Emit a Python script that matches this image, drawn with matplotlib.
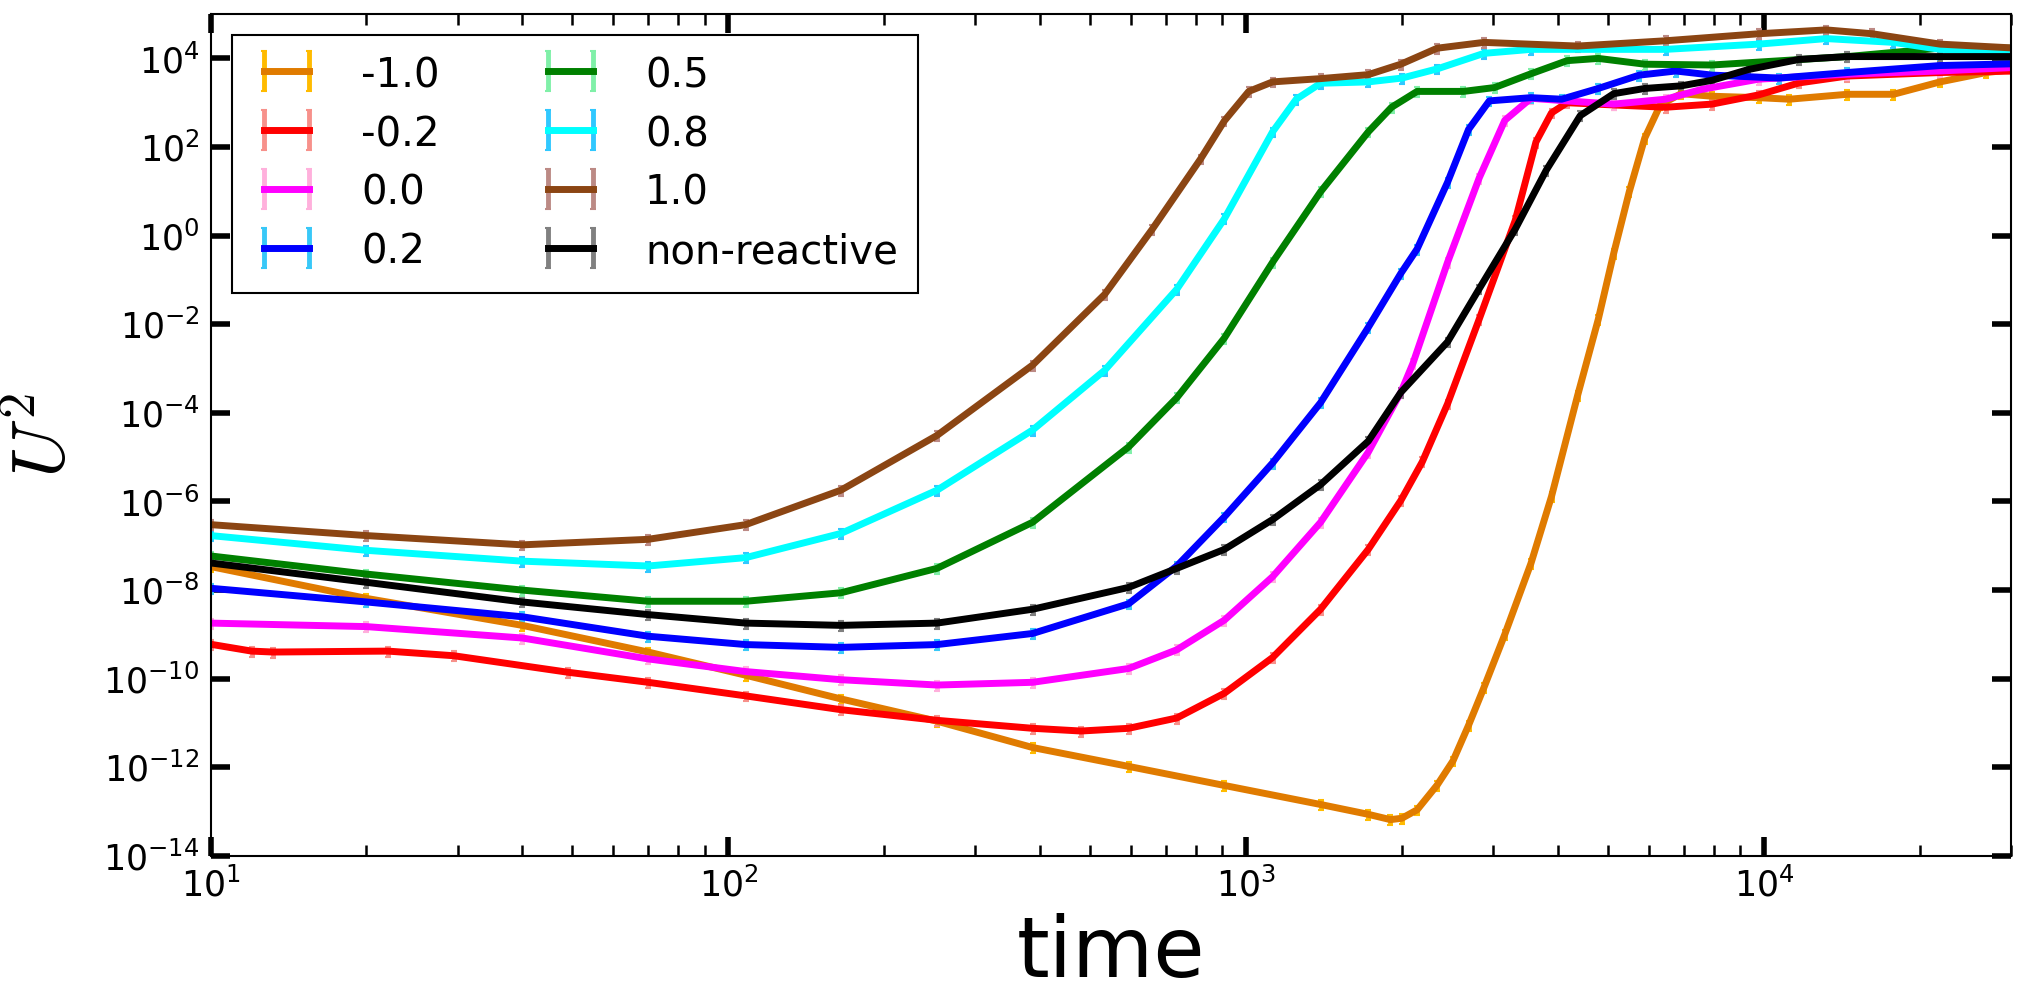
import numpy as np
import matplotlib

matplotlib.use("Agg")
from matplotlib import pyplot as plt
from matplotlib import ticker

# values (time, U^2), one pair per run
t_m10 = [10, 20, 40, 70, 108, 165, 253, 387, 593, 908, 1393, 1722, 1900, 2000, 2140, 2340, 2510, 2690, 2880,
         3160, 3550, 3890, 4370, 4790, 5130, 5500, 5890, 6310, 6920, 7940, 9770, 11200, 14500, 17800, 21900,
         26900, 30900]
u_m10 = [3.4e-8, 6.5e-9, 1.6e-9, 4.0e-10, 1.2e-10, 3.5e-11, 1.1e-11, 2.8e-12, 1.05e-12, 3.9e-13, 1.45e-13,
         8.7e-14, 6.6e-14, 7.1e-14, 1.1e-13, 4.0e-13, 1.4e-12, 8.9e-12, 6.3e-11, 1.0e-9, 4.0e-8, 1.3e-6,
         2.5e-4, 1.3e-2, 0.4, 10, 160, 890, 1600, 1400, 1300, 1200, 1550, 1550, 2950, 4800, 5750]

t_m02 = [10, 12, 13.2, 22, 29.5, 49, 70, 108, 165, 253, 387, 480, 593, 735, 908, 1125, 1393, 1722, 1990,
         2190, 2450, 2820, 3310, 3630, 3890, 4170, 5130, 6460, 7940, 9770, 11700, 14500, 21900, 30900]
u_m02 = [6.0e-10, 4.2e-10, 4.0e-10, 4.2e-10, 3.3e-10, 1.4e-10, 8.3e-11, 4.1e-11, 2.0e-11, 1.15e-11, 7.6e-12,
         6.6e-12, 7.6e-12, 1.3e-11, 4.7e-11, 3.0e-10, 3.7e-9, 8.3e-8, 1.05e-6, 7.9e-6, 1.6e-4, 1.3e-2, 2.2,
         130, 590, 1000, 890, 790, 930, 1500, 2800, 4000, 4800, 5200]

t_00 = [10, 20, 40, 70, 108, 165, 253, 387, 593, 735, 908, 1125, 1393, 1722, 1990, 2100, 2450, 2820, 3160,
        3550, 4070, 5130, 6460, 7590, 9770, 14500, 21900, 30900]
u_00 = [1.8e-9, 1.5e-9, 8.3e-10, 2.8e-10, 1.45e-10, 9.5e-11, 7.2e-11, 8.3e-11, 1.7e-10, 4.5e-10, 2.1e-9,
        2.0e-8, 3.4e-7, 1.3e-5, 2.9e-4, 1.3e-3, 0.25, 20, 400, 1260, 1120, 930, 1200, 2000, 3400, 4400, 5200,
        6300]

t_02 = [10, 20, 40, 70, 108, 165, 253, 387, 593, 735, 908, 1125, 1393, 1722, 1990, 2140, 2450, 2690, 2950,
        3550, 4070, 4790, 5750, 6760, 7940, 10700, 14500, 21900, 30900]
u_02 = [1.1e-8, 5.4e-9, 2.5e-9, 9.1e-10, 5.9e-10, 5.1e-10, 5.9e-10, 1.05e-9, 4.9e-9, 3.5e-8, 4.5e-7, 7.4e-6,
        1.7e-4, 8.5e-3, 0.14, 0.5, 16, 250, 1100, 1300, 1200, 2100, 4200, 5200, 4200, 3600, 4800, 6900, 7600]

t_05 = [10, 20, 40, 70, 108, 165, 253, 387, 593, 735, 908, 1125, 1393, 1722, 1910, 2140, 2630, 3020, 3550,
        4170, 4790, 5890, 7940, 14500, 21900, 30900]
u_05 = [5.9e-8, 2.3e-8, 1.0e-8, 5.6e-9, 5.6e-9, 8.7e-9, 3.1e-8, 3.4e-7, 1.7e-5, 2.2e-4, 4.9e-3, 0.25, 9.8,
        220, 790, 1800, 1800, 2200, 4500, 8900, 10000, 7400, 7100, 11000, 17000, 17000]

t_08 = [10, 20, 40, 70, 108, 165, 253, 387, 533, 735, 908, 1125, 1250, 1393, 1722, 2000, 2340, 2880, 3550,
        6460, 9770, 13200, 17800, 21900, 30900]
u_08 = [1.7e-7, 7.9e-8, 4.5e-8, 3.5e-8, 5.4e-8, 1.9e-7, 1.8e-6, 4.1e-5, 9.1e-4, 6.2e-2, 2.4, 220, 1200,
        2750, 2950, 3600, 5800, 13000, 16000, 16000, 21000, 28000, 23000, 16000, 14000]

t_10 = [10, 20, 40, 70, 108, 165, 253, 387, 533, 659, 817, 908, 1012, 1125, 1393, 1722, 1990, 2340, 2880,
        4370, 6460, 9770, 13200, 16200, 21900, 30900]
u_10 = [3.0e-7, 1.7e-7, 1.05e-7, 1.4e-7, 3.0e-7, 1.8e-6, 3.1e-5, 1.2e-3, 4.7e-2, 1.4, 54, 390, 1800, 2950,
        3500, 4300, 7400, 17000, 23000, 19000, 25000, 36000, 44000, 36000, 21000, 17000]

t_nr = [10, 20, 40, 70, 108, 165, 253, 387, 593, 735, 908, 1125, 1393, 1722, 1990, 2450, 2820, 3310, 3800,
        4420, 5130, 5890, 6920, 7940, 9330, 11700, 14500, 21900, 30900]
u_nr = [4.1e-8, 1.5e-8, 5.4e-9, 2.8e-9, 1.8e-9, 1.6e-9, 1.8e-9, 3.7e-9, 1.15e-8, 3.1e-8, 8.3e-8, 3.9e-7,
        2.4e-6, 2.3e-5, 2.9e-4, 4.0e-3, 6.3e-2, 1.4, 30, 510, 1600, 2100, 2400, 3200, 5600, 9500, 11000,
        11000, 11000]

labels = ["-1.0", "-0.2", "0.0", "0.2", "0.5", "0.8", "1.0", "non-reactive"]
rel_err = 0.25

series = [(t_m10, u_m10), (t_m02, u_m02), (t_00, u_00), (t_02, u_02),
          (t_05, u_05), (t_08, u_08), (t_10, u_10), (t_nr, u_nr)]
line_colors = ["#e07b00", "#ff0000", "#ff00ff", "#0000ff", "#008000", "#00ffff", "#8b4513", "#000000"]
err_colors = ["#ffbb00", "#f7918b", "#ffb0dc", "#38c8f8", "#80f0a8", "#30c8ff", "#bc8a85", "#808080"]

fig = plt.figure(figsize=(20.25, 10.07), dpi=100)
ax = fig.add_axes([0.104, 0.150, 0.889, 0.836])

for (t, u), label, c, ec in zip(series, labels, line_colors, err_colors):
    u = np.asarray(u, dtype=float)
    ax.errorbar(t, u, yerr=rel_err * u, color=c, ecolor=ec, linewidth=5,
                elinewidth=3.5, capsize=2.5, capthick=1.5, label=label)

ax.set_xscale("log")
ax.set_yscale("log")
ax.set_xlim(10, 3e4)
ax.set_ylim(1e-14, 1e5)
ax.set_yticks(10.0 ** np.arange(-14, 5, 2))
ax.yaxis.set_minor_locator(ticker.NullLocator())

ax.tick_params(which="both", direction="in", top=True, right=True)
ax.tick_params(which="major", length=14, width=4, labelsize=25, pad=8)
ax.tick_params(which="minor", length=8, width=1.8)
for sp in ax.spines.values():
    sp.set_linewidth(1.5)

ax.set_xlabel("time", fontsize=60)
ax.set_ylabel(r"$U^2$", fontsize=54, math_fontfamily="cm")
ax.xaxis.set_label_coords(0.5, -0.068)
ax.yaxis.set_label_coords(-0.072, 0.5)

leg = ax.legend(loc="upper left", bbox_to_anchor=(0.012, 0.975), borderaxespad=0, ncol=2,
                fontsize=29, numpoints=2, handlelength=1.7, handleheight=1.0, handletextpad=1.0,
                columnspacing=2.4, labelspacing=0.45, borderpad=0.5, fancybox=False,
                edgecolor="k", framealpha=1)
leg.get_frame().set_linewidth(1.5)

fig.savefig("out.png", dpi=100)
